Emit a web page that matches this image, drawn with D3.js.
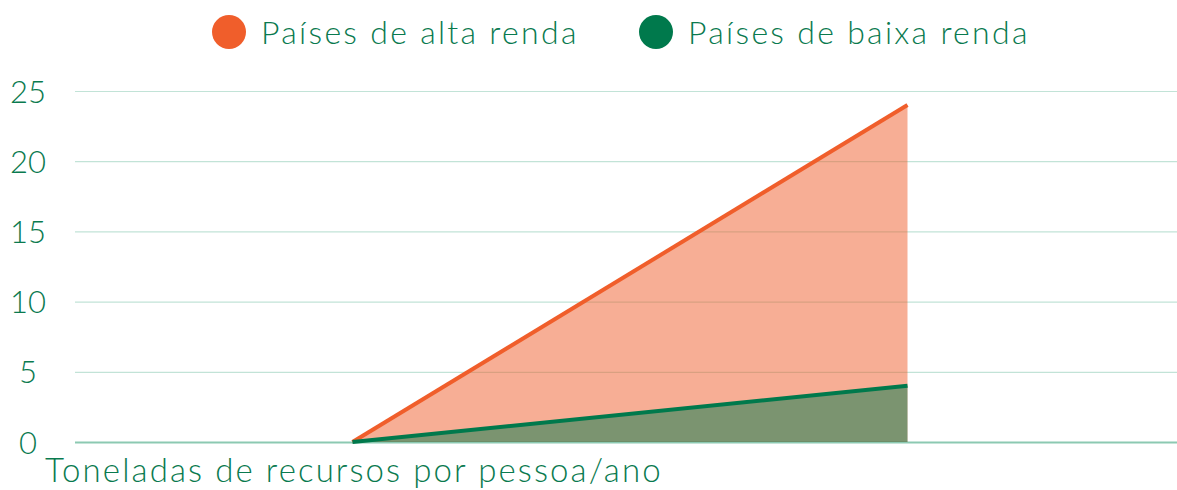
<!DOCTYPE html>
<html>
<head>
<meta charset="utf-8">
<script src="https://cdn.jsdelivr.net/npm/d3@7"></script>
<style>
  html, body { margin: 0; padding: 0; background: #fff; }
  svg text { font-family: Lato, "Open Sans", sans-serif; fill: #0a7a4f; }
</style>
</head>
<body>
<div id="chart"></div>
<script>
// dados
var seriesNames = ["Países de alta renda", "Países de baixa renda"];
var seriesColors = ["#f05e2b", "#00794c"];
var xPoints = [1, 3];
var highIncome = [0, 24];
var lowIncome = [0, 4];
var yTicks = [0, 5, 10, 15, 20, 25];
var axisTitle = "Toneladas de recursos por pessoa/ano";

var width = 1177, height = 490;

var svg = d3.select("#chart").append("svg")
  .attr("width", width)
  .attr("height", height);

var x = d3.scaleLinear().domain([0, 4]).range([75, 1185]);
var y = d3.scaleLinear().domain([0, 25]).range([442, 91]);

// grade
var yAxis = d3.axisLeft(y).tickValues(yTicks).tickSize(-(width - 75)).tickFormat(d3.format("d"));
var gy = svg.append("g").attr("transform", "translate(75,0)").call(yAxis);
gy.select(".domain").remove();
gy.selectAll(".tick line")
  .attr("stroke", function(d) { return d === 0 ? "#8cc9b2" : "#c2e3d7"; })
  .attr("stroke-width", function(d) { return d === 0 ? 2 : 1.2; });
gy.selectAll(".tick text")
  .attr("x", -47)
  .attr("text-anchor", "middle")
  .attr("dy", "0.36em")
  .style("font-size", "31px")
  .style("font-weight", 300);

// áreas
var datasets = [highIncome, lowIncome];
datasets.forEach(function(vals, i) {
  var pts = xPoints.map(function(xv, j) { return [xv, vals[j]]; });
  var area = d3.area()
    .x(function(d) { return x(d[0]); })
    .y0(y(0))
    .y1(function(d) { return y(d[1]); });
  svg.append("path")
    .datum(pts)
    .attr("d", area)
    .attr("fill", seriesColors[i])
    .attr("fill-opacity", 0.5);
});
datasets.forEach(function(vals, i) {
  var pts = xPoints.map(function(xv, j) { return [xv, vals[j]]; });
  var line = d3.line()
    .x(function(d) { return x(d[0]); })
    .y(function(d) { return y(d[1]); });
  svg.append("path")
    .datum(pts)
    .attr("d", line)
    .attr("fill", "none")
    .attr("stroke", seriesColors[i])
    .attr("stroke-width", 4);
});

// título do eixo
svg.append("text")
  .attr("x", 45)
  .attr("y", 482)
  .style("font-size", "33px")
  .style("font-weight", 300)
  .style("letter-spacing", "2.1px")
  .text(axisTitle);

// legenda
var legendX = [229, 656];
var legend = svg.selectAll(".leg")
  .data(seriesNames)
  .enter()
  .append("g")
  .attr("class", "leg")
  .attr("transform", function(d, i) { return "translate(" + legendX[i] + ",32)"; });
legend.append("circle")
  .attr("r", 17)
  .attr("fill", function(d, i) { return seriesColors[i]; });
legend.append("text")
  .attr("x", 32)
  .attr("dy", "0.36em")
  .style("font-size", "32px")
  .style("font-weight", 300)
  .style("letter-spacing", "2.3px")
  .text(function(d) { return d; });
</script>
</body>
</html>
